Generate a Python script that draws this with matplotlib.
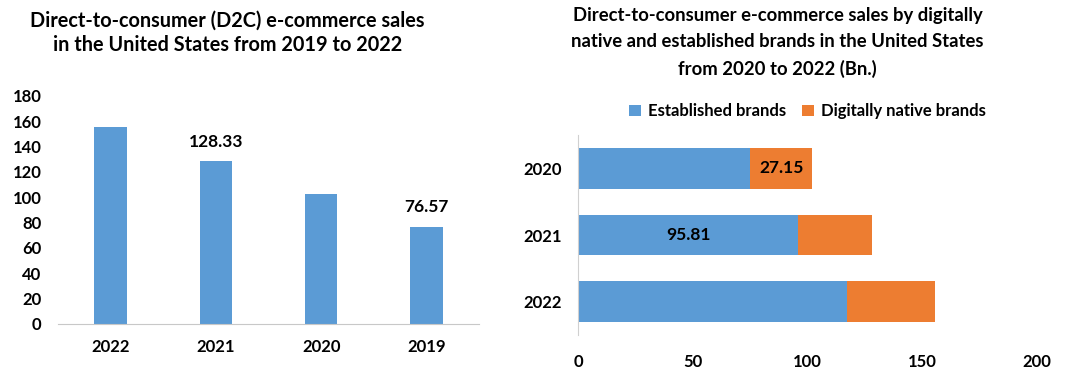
import numpy as np
import matplotlib.pyplot as plt

plt.rcParams['font.family'] = ['Lato', 'DejaVu Sans']
plt.rcParams['font.weight'] = 'bold'

# left chart data
years_total = ['2022', '2021', '2020', '2019']
sales_total = [155.5, 128.33, 102.2, 76.57]
total_labels = {1: '128.33', 3: '76.57'}

# right chart data
years_split = ['2020', '2021', '2022']
established = [75.0, 95.81, 117.3]
digital = [27.15, 32.52, 38.4]

blue = '#5B9BD5'
orange = '#ED7D31'

fig = plt.figure(figsize=(10.83, 3.73), dpi=100)

# ---- left: vertical bars
ax1 = fig.add_axes([0.0536, 0.1314, 0.3887, 0.612])
x = np.arange(len(years_total))
ax1.bar(x, sales_total, width=0.31, color=blue)
ax1.set_xlim(-0.5, 3.5)
ax1.set_ylim(0, 180)
ax1.set_yticks(np.arange(0, 181, 20))
ax1.set_xticks(x)
ax1.set_xticklabels(years_total)
ax1.tick_params(length=0, labelsize=12)
ax1.tick_params(axis='y', pad=12)
ax1.tick_params(axis='x', pad=11)
for s in ['top', 'right', 'left']:
    ax1.spines[s].set_visible(False)
ax1.spines['bottom'].set_color('#c8c8c8')
ax1.spines['bottom'].set_linestyle((0, (1, 1)))
ax1.spines['bottom'].set_linewidth(0.8)
for i, t in total_labels.items():
    ax1.text(x[i], sales_total[i] + 9, t, ha='center', va='bottom', fontsize=12.5, fontweight='bold')
fig.text(0.21, 0.972, 'Direct-to-consumer (D2C) e-commerce sales\nin the United States from 2019 to 2022',
         ha='center', va='top', fontsize=14.3, fontweight='bold', linespacing=1.3)

# ---- right: stacked horizontal bars
ax2 = fig.add_axes([0.534, 0.1019, 0.423, 0.536])
y = np.arange(len(years_split))
ax2.barh(y, established, height=0.61, color=blue, label='Established brands')
ax2.barh(y, digital, left=established, height=0.61, color=orange, label='Digitally native brands')
ax2.set_ylim(2.5, -0.5)
ax2.set_xlim(0, 200)
ax2.set_xticks([0, 50, 100, 150, 200])
ax2.set_yticks(y)
ax2.set_yticklabels(years_split)
ax2.tick_params(length=0, labelsize=12)
ax2.tick_params(axis='y', pad=12)
ax2.tick_params(axis='x', pad=14)
for s in ['top', 'right', 'bottom']:
    ax2.spines[s].set_visible(False)
ax2.spines['left'].set_color('#d0d0d0')
ax2.spines['left'].set_linewidth(0.8)
ax2.text(established[0] + digital[0] / 2, y[0], f'{digital[0]:.2f}', ha='center', va='center',
         fontsize=12.5, fontweight='bold')
ax2.text(established[1] / 2, y[1], f'{established[1]:.2f}', ha='center', va='center',
         fontsize=12.5, fontweight='bold')
ax2.legend(loc='lower center', bbox_to_anchor=(0.5, 1.045), ncol=2, frameon=False, fontsize=12,
           handlelength=0.7, handleheight=0.7, handletextpad=0.4, columnspacing=1.0, borderaxespad=0)
fig.text(0.718, 0.98, 'Direct-to-consumer e-commerce sales by digitally\nnative and established brands in the United States\nfrom 2020 to 2022 (Bn.)',
         ha='center', va='top', fontsize=13.3, fontweight='bold', linespacing=1.62)

fig.savefig('out.png', dpi=100)
